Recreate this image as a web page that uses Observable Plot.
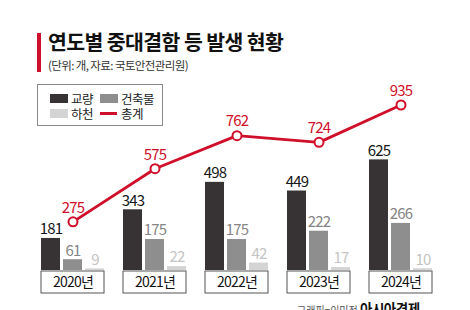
<!DOCTYPE html>
<html><head><meta charset="utf-8">
<script src="https://cdn.jsdelivr.net/npm/d3@7"></script>
<script src="https://cdn.jsdelivr.net/npm/@observablehq/plot@0.6"></script>
<style>
html,body{margin:0;padding:0;background:#fff;overflow:hidden;}
body{width:470px;height:310px;position:relative;font-family:"Noto Sans CJK KR","Noto Sans",sans-serif;}
#head{position:relative;height:75px;}
#bar{position:absolute;left:37px;top:33px;width:4px;height:39px;background:#d0102b;}
#title{position:absolute;left:48px;top:29px;font-size:20.5px;font-weight:700;letter-spacing:-0.6px;line-height:24px;color:#111;white-space:nowrap;}
#sub{position:absolute;left:48px;top:58px;font-size:11.5px;letter-spacing:-0.6px;line-height:14px;color:#333;white-space:nowrap;}
#chart{position:relative;height:235px;}
#legend{position:absolute;left:37px;top:84px;width:124px;height:40px;border:1px solid #8a8a8a;background:#fff;font-size:12.5px;letter-spacing:-0.5px;color:#222;}
.it{position:absolute;display:flex;align-items:center;height:13px;line-height:13px;white-space:nowrap;}
.it span{line-height:13px;}
.sw{width:18px;height:9px;margin-right:3px;}
.ln{width:17px;height:3px;margin-right:4px;background:#d0102b;}
#credit{position:absolute;left:297px;top:300px;white-space:nowrap;color:#555;font-size:10px;line-height:16px;}
#credit b{font-size:13.5px;color:#111;letter-spacing:-0.5px;}
</style></head>
<body>
<div id="head"><div id="bar"></div><div id="title">연도별 중대결함 등 발생 현황</div><div id="sub">(단위: 개, 자료: 국토안전관리원)</div></div>
<div id="chart"></div>
<div id="legend"></div>
<div id="credit">그래픽=이미정 <b>아시아경제</b></div>
<script>
const years = ["2020", "2021", "2022", "2023", "2024"];
const bridge = [181, 343, 498, 449, 625];
const building = [61, 175, 175, 222, 266];
const river = [9, 22, 42, 17, 10];
const total = [275, 575, 762, 724, 935];
const seriesNames = ["교량", "건축물", "하천", "총계"];
const colors = {"교량": "#373334", "건축물": "#8e8e8e", "하천": "#d4d4d4", "총계": "#d0102b"};
const labelColors = {"교량": "#151515", "건축물": "#858585", "하천": "#c4c4c4"};

const rows = years.map((y, i) => ({year: y, bridge: bridge[i], building: building[i], river: river[i], total: total[i]}));

const font = {fontFamily: "Noto Sans CJK KR, Noto Sans, sans-serif"};
const barSpec = [
  {key: "bridge", name: "교량", l: 0, r: 44, dx: -22},
  {key: "building", name: "건축물", l: 22, r: 22, dx: 0},
  {key: "river", name: "하천", l: 44, r: 0, dx: 22}
];

const marks = [];
// year label boxes
marks.push(Plot.barY(rows, {x: "year", y1: () => 0, y2: () => 0, insetTop: 1, insetBottom: -23, fill: "#fff", stroke: "#555", strokeWidth: 1}));
marks.push(Plot.text(rows, {x: "year", y: () => 0, dy: 12, text: d => d.year + "년", fontSize: 14, fill: "#111", ...font}));
for (const s of barSpec) {
  marks.push(Plot.barY(rows, {x: "year", y: s.key, fill: colors[s.name], insetLeft: s.l, insetRight: s.r}));
  marks.push(Plot.text(rows, {x: "year", y: s.key, dx: s.dx, dy: -9, text: d => String(d[s.key]), fill: labelColors[s.name], fontSize: 15, ...font}));
}
marks.push(Plot.line(rows, {x: "year", y: "total", stroke: colors["총계"], strokeWidth: 2.8}));
marks.push(Plot.dot(rows, {x: "year", y: "total", r: 4.5, fill: "#fff", stroke: colors["총계"], strokeWidth: 2}));
marks.push(Plot.text(rows, {x: "year", y: "total", dy: -14, text: d => String(d.total), fill: colors["총계"], fontSize: 15, ...font}));

const chart = Plot.plot({
  width: 470, height: 235,
  marginTop: 18, marginBottom: 40, marginLeft: 40, marginRight: 37,
  x: {type: "band", domain: years, paddingInner: 0.232, paddingOuter: 0, axis: null},
  y: {domain: [0, 1000], axis: null},
  style: {background: "transparent", overflow: "visible"},
  marks
});
chart.querySelectorAll("text").forEach(t => t.style.letterSpacing = "-0.8px");
document.getElementById("chart").appendChild(chart);

// legend
const lg = document.getElementById("legend");
const pos = [[12, 7], [62, 7], [12, 22], [62, 22]];
seriesNames.forEach((n, i) => {
  const it = document.createElement("div");
  it.className = "it";
  it.style.left = pos[i][0] + "px";
  it.style.top = pos[i][1] + "px";
  const sw = document.createElement("span");
  if (n === "총계") { sw.className = "ln"; } else { sw.className = "sw"; sw.style.background = colors[n]; }
  it.appendChild(sw);
  const tx = document.createElement("span");
  tx.textContent = n;
  it.appendChild(tx);
  lg.appendChild(it);
});
</script>
</body></html>
